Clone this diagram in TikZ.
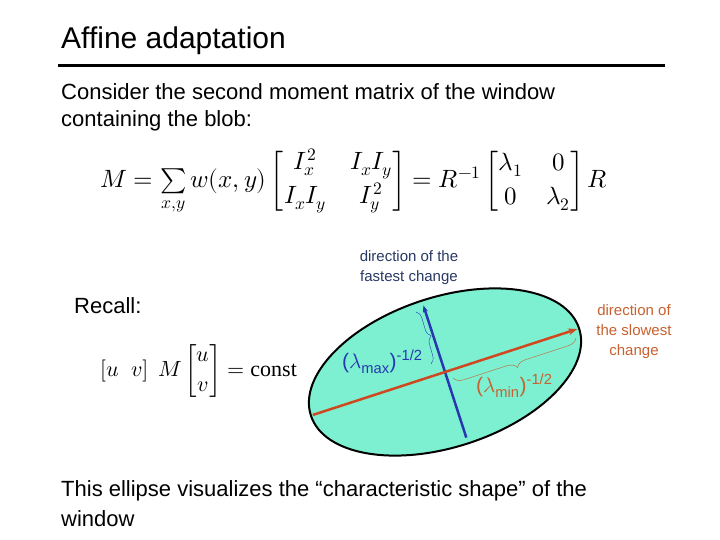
\documentclass[tikz,border=0pt]{standalone}
\usepackage{fontspec}
\setmainfont{Liberation Sans}
\newfontfamily\serif{Liberation Serif}
\usepackage{amsmath}
\usepackage{unicode-math}
\setmathfont{Latin Modern Math}
\usetikzlibrary{arrows.meta,decorations.pathreplacing,shapes.geometric}
\definecolor{ellfill}{RGB}{124,240,208}
\definecolor{org}{RGB}{208,72,32}
\definecolor{blu}{RGB}{40,56,176}
\definecolor{lbl}{RGB}{200,96,48}
\definecolor{dblue}{RGB}{40,56,100}
\begin{document}
\begin{tikzpicture}[x=1pt,y=-1pt,
  txt/.style={anchor=west,inner sep=0pt,font=\fontsize{22}{27}\selectfont},
  small/.style={align=center,inner sep=0pt,font=\fontsize{15}{20}\selectfont}]
\useasboundingbox (0,0) rectangle (720,540);
\node[txt,font=\fontsize{30}{34}\selectfont] (title) at (61,41) {Affine adaptation};
\coordinate (l1) at (58,66); \coordinate (l2) at (665,66);
\draw[line width=3pt] (l1) -- (l2);
\node[txt] (c1) at (61,92) {Consider the second moment matrix of the window};
\node[txt] (c2) at (61,121) {containing the blob:};
\node[anchor=west,inner sep=0pt,font=\fontsize{25}{30}\selectfont] (eq) at (100,182)
 {\setlength{\arraycolsep}{12pt}$M=\sum\limits_{x,y} w(x,y)\begin{bmatrix} I_x^2 & I_xI_y\\[4pt] I_xI_y & I_y^2\end{bmatrix}=R^{-1}\begin{bmatrix}\lambda_1 & 0\\[4pt] 0 & \lambda_2\end{bmatrix}R$};
\node[txt] (recall) at (74,306) {Recall:};
\node[anchor=west,inner sep=0pt,font=\fontsize{22}{26}\selectfont] (eq2) at (100,371)
 {$[u\;\; v]\;\,M\begin{bmatrix}u\\[4pt] v\end{bmatrix}=\text{\serif const}$};
\node[draw=black,line width=2pt,fill=ellfill,ellipse,minimum width=282pt,minimum height=150pt,inner sep=0pt,rotate=18] (el) at (445,372) {};
\begin{scope}[shift={(445,372)},rotate=18]
\coordinate (ctr) at (0,0);
\coordinate (oa) at (-139,0); \coordinate (ob) at (139,0);
\coordinate (ba) at (0,-70); \coordinate (bb) at (0,69);
\end{scope}
\draw[blu,line width=2.5pt,-{Stealth[length=7pt]}] (bb) -- (ba);
\draw[org,line width=2.5pt,-{Stealth[length=9pt]}] (oa) -- (ob);
\coordinate (br1) at (431,364); \coordinate (br2) at (416,312);
\draw[blu,thin,decorate,decoration={brace,amplitude=8pt,mirror}] (br1) -- (br2);
\coordinate (br3) at (453,378); \coordinate (br4) at (576,338);
\draw[lbl,thin,decorate,decoration={brace,amplitude=10pt,mirror}] (br3) -- (br4);
\node[small,text=blu,anchor=west,font=\fontsize{21}{24}\selectfont] (lmax) at (342,362) {({\serif$\lambda$}\textsubscript{max})\textsuperscript{-1/2}};
\node[small,text=lbl,anchor=west,font=\fontsize{21}{24}\selectfont] (lmin) at (476,386) {({\serif$\lambda$}\textsubscript{min})\textsuperscript{-1/2}};
\node[small,text=dblue] (fast) at (409,268) {direction of the\\fastest change};
\node[small,text=lbl] (slow) at (634,332) {direction of\\the slowest\\change};
\node[txt] (b1) at (61,491) {This ellipse visualizes the “characteristic shape” of the};
\node[txt] (b2) at (61,519) {window};
\end{tikzpicture}
\end{document}
